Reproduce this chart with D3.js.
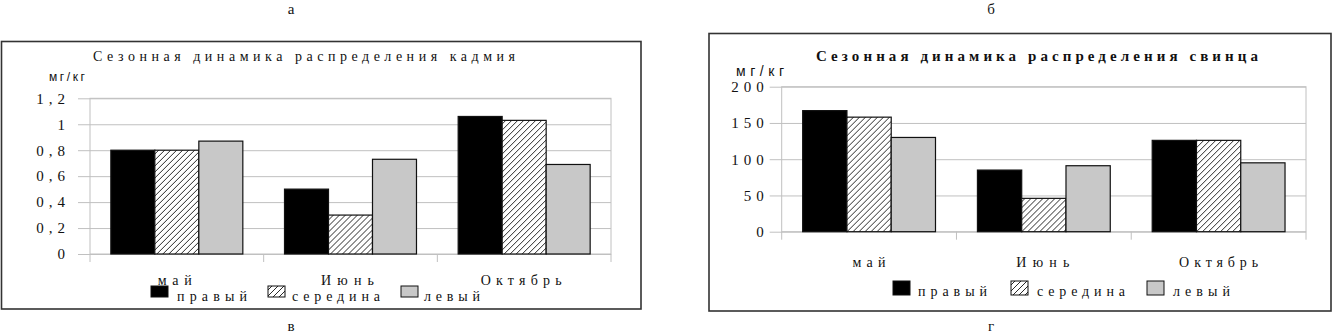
<!DOCTYPE html>
<html>
<head>
<meta charset="utf-8">
<script src="https://cdn.jsdelivr.net/npm/d3@7"></script>
<style>
  body { margin: 0; background: #fff; }
  svg { display: block; }
  text { font-family: "Liberation Serif", "DejaVu Serif", serif; fill: #111; }
</style>
</head>
<body>
<svg width="1332" height="334"></svg>
<script>
// categories and series
var categories = ["май", "Июнь", "Октябрь"];
var seriesNames = ["правый", "середина", "левый"];

// кадмий, мг/кг
var cadmiumRight  = [0.80, 0.50, 1.06];
var cadmiumMiddle = [0.80, 0.30, 1.03];
var cadmiumLeft   = [0.87, 0.73, 0.69];
var cadmiumTicks  = [0, 0.2, 0.4, 0.6, 0.8, 1, 1.2];
var cadmiumTickLabels = ["0", "0,2", "0,4", "0,6", "0,8", "1", "1,2"];

// свинец, мг/кг
var leadRight  = [167, 85, 126];
var leadMiddle = [158, 46, 126];
var leadLeft   = [130, 91, 95];
var leadTicks  = [0, 50, 100, 150, 200];
var leadTickLabels = ["0", "50", "100", "150", "200"];

var svg = d3.select("svg");

// hatch pattern for "середина"
svg.append("defs").append("pattern")
    .attr("id", "hatch")
    .attr("patternUnits", "userSpaceOnUse")
    .attr("width", 6).attr("height", 6)
  .call(function(p){
    p.append("rect").attr("width", 6).attr("height", 6).attr("fill", "#fff")
    p.append("path")
      .attr("d", "M-1,7 L7,-1 M-1,1 L1,-1 M5,7 L7,5")
      .attr("stroke", "#111").attr("stroke-width", 0.9)
  })

var fills = ["#000", "url(#hatch)", "#c8c8c8"];

function drawChart(c) {
  var g = svg.append("g");

  // outer frame
  g.append("rect")
    .attr("x", c.frame[0]).attr("y", c.frame[1])
    .attr("width", c.frame[2] - c.frame[0]).attr("height", c.frame[3] - c.frame[1])
    .attr("fill", "none").attr("stroke", "#333").attr("stroke-width", 1.6)

  var x0 = d3.scaleBand().domain(categories)
      .range([c.left, c.right]).paddingInner(0.24).paddingOuter(0.12);
  var x1 = d3.scaleBand().domain(seriesNames).range([0, x0.bandwidth()]);
  var y = d3.scaleLinear().domain(c.domain).range([c.base, c.top]);

  // gridlines + y labels
  var yAxis = g.append("g")
    .attr("transform", "translate(" + (c.left - 12) + ",0)")
    .call(d3.axisLeft(y)
      .tickValues(c.ticks)
      .tickFormat(function(d, i){ return c.tickLabels[i] })
      .tickSize(-(c.right - c.left + 12))
      .tickPadding(c.tickPad))
  yAxis.attr("font-family", null)
  yAxis.select(".domain").remove();
  yAxis.selectAll("line").attr("stroke", "#c0c0c0")
  yAxis.selectAll("text")
    .attr("font-size", c.tickFont)
    .style("letter-spacing", c.tickSpacing + "px")

  // plot area border
  g.append("rect")
    .attr("x", c.left).attr("y", c.top)
    .attr("width", c.right - c.left).attr("height", c.base - c.top)
    .attr("fill", "none").attr("stroke", "#c0c0c0")

  // category boundary ticks
  g.selectAll(".ctick")
    .data(d3.range(categories.length + 1))
    .enter().append("line")
      .attr("x1", function(i){ return c.left + i * x0.step() })
      .attr("x2", function(i){ return c.left + i * x0.step() })
      .attr("y1", c.base).attr("y2", c.base + 8)
      .attr("stroke", "#c0c0c0")

  // bars
  var rows = categories.map(function(cat, i){
    return { cat: cat, vals: c.series.map(function(s, j){ return { name: seriesNames[j], v: s[i], k: j } }) }
  })
  g.selectAll(".grp")
    .data(rows)
    .enter().append("g")
      .attr("transform", function(d){ return "translate(" + x0(d.cat) + ",0)" })
    .selectAll("rect")
    .data(function(d){ return d.vals })
    .enter().append("rect")
      .attr("x", function(d){ return x1(d.name) })
      .attr("y", function(d){ return y(d.v) })
      .attr("width", x1.bandwidth())
      .attr("height", function(d){ return c.base - y(d.v) })
      .attr("fill", function(d){ return fills[d.k] })
      .attr("stroke", "#111").attr("stroke-width", 1.2)

  // category labels
  var xAxis = g.append("g")
    .attr("transform", "translate(0," + c.catY + ")")
    .call(d3.axisBottom(x0).tickSize(0).tickPadding(0))
  xAxis.attr("font-family", null)
  xAxis.select(".domain").remove();
  xAxis.selectAll("text")
    .attr("font-size", 14)
    .attr("dy", 0)
    .attr("dx", function(d, i){ return c.catDx[i] })
    .attr("textLength", function(d, i){ return c.catW[i] })
    .attr("lengthAdjust", "spacing")
    .attr("fill", "#111")

  // title
  g.append("text")
    .attr("x", c.titleX).attr("y", c.titleY)
    .attr("font-size", c.titleFont)
    .attr("font-weight", c.titleBold ? "bold" : "normal")
    .attr("textLength", c.titleW).attr("lengthAdjust", "spacing")
    .text(c.title)

  // unit
  g.append("text")
    .attr("x", c.unitX).attr("y", c.unitY)
    .attr("font-size", c.unitFont)
    .style("font-family", "'Liberation Sans', sans-serif")
    .attr("textLength", c.unitW).attr("lengthAdjust", "spacing")
    .text("мг/кг")

  // legend
  var lg = g.selectAll(".leg")
    .data(seriesNames)
    .enter().append("g")
  lg.append("rect")
    .attr("x", function(d, i){ return c.legBox[i] })
    .attr("y", c.legY)
    .attr("width", 17).attr("height", c.legH)
    .attr("fill", function(d, i){ return fills[i] })
    .attr("stroke", "#111").attr("stroke-width", 1)
  lg.append("text")
    .attr("x", function(d, i){ return c.legText[i] })
    .attr("y", c.legTextY)
    .attr("font-size", 14)
    .attr("textLength", function(d, i){ return c.legW[i] })
    .attr("lengthAdjust", "spacing")
    .text(function(d){ return d })

  // panel letters
  g.append("text").attr("x", c.letterX).attr("y", 14)
    .attr("text-anchor", "middle").attr("font-size", 15).text(c.topLetter)
  g.append("text").attr("x", c.letterX).attr("y", 331)
    .attr("text-anchor", "middle").attr("font-size", 15).text(c.bottomLetter)
}

drawChart({
  frame: [1.5, 41.5, 641, 309],
  left: 90, right: 611, top: 98.3, base: 254,
  domain: [0, 1.2], ticks: cadmiumTicks, tickLabels: cadmiumTickLabels,
  tickPad: 8, tickFont: 15, tickSpacing: 5,
  series: [cadmiumRight, cadmiumMiddle, cadmiumLeft],
  catY: 285, catDx: [-2, -3, -3], catW: [34, 53, 81],
  title: "Сезонная динамика распределения кадмия",
  titleX: 93, titleY: 61, titleFont: 14, titleBold: false, titleW: 422,
  unitX: 49, unitY: 81, unitW: 36, unitFont: 12,
  legBox: [151, 268, 401], legY: 286, legH: 11,
  legText: [177, 292, 424], legTextY: 301, legW: [70, 88, 56],
  letterX: 291, topLetter: "а", bottomLetter: "в"
});

drawChart({
  frame: [709, 33.5, 1331, 311],
  left: 781.7, right: 1306, top: 86.7, base: 231.7,
  domain: [0, 200], ticks: leadTicks, tickLabels: leadTickLabels,
  tickPad: 1, tickFont: 15, tickSpacing: 5,
  series: [leadRight, leadMiddle, leadLeft],
  catY: 267, catDx: [0, -1, 0], catW: [33, 53, 79],
  title: "Сезонная динамика распределения свинца",
  titleX: 816, titleY: 61, titleFont: 15, titleBold: true, titleW: 442,
  unitX: 736, unitY: 76, unitW: 48, unitFont: 14,
  legBox: [893, 1011, 1147], legY: 281, legH: 14,
  legText: [918, 1037, 1173], legTextY: 296, legW: [69, 88, 57],
  letterX: 991, topLetter: "б", bottomLetter: "г"
});
</script>
</body>
</html>
